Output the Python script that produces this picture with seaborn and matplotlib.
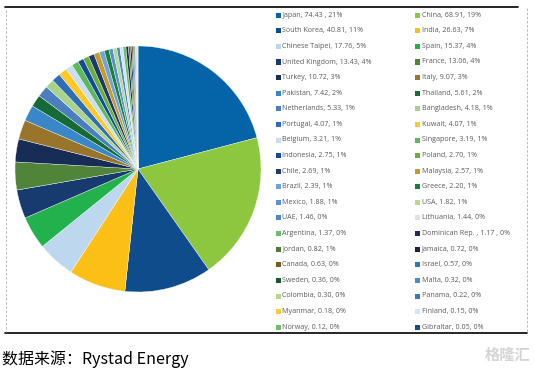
import matplotlib
matplotlib.use("Agg")
import matplotlib.pyplot as plt
from matplotlib.patches import Rectangle
from matplotlib.lines import Line2D
import seaborn as sns

sns.set_theme(style="white")
plt.rcParams['font.family'] = ['Noto Sans CJK SC', 'DejaVu Sans']

# ---- data ----
countries = ["Japan", "China", "South Korea", "India", "Chinese Taipei", "Spain",
             "United Kingdom", "France", "Turkey", "Italy", "Pakistan", "Thailand",
             "Netherlands", "Bangladesh", "Portugal", "Kuwait", "Belgium", "Singapore",
             "Indonesia", "Poland", "Chile", "Malaysia", "Brazil", "Greece",
             "Mexico", "USA", "UAE", "Lithuania", "Argentina", "Dominican Rep.",
             "Jordan", "Jamaica", "Canada", "Israel", "Sweden", "Malta",
             "Colombia", "Panama", "Myanmar", "Finland", "Norway", "Gibraltar"]
values = [74.43, 68.91, 40.81, 26.63, 17.76, 15.37,
          13.43, 13.06, 10.72, 9.07, 7.42, 5.61,
          5.33, 4.18, 4.07, 4.07, 3.21, 3.19,
          2.75, 2.70, 2.69, 2.57, 2.39, 2.20,
          1.88, 1.82, 1.46, 1.44, 1.37, 1.17,
          0.82, 0.72, 0.63, 0.57, 0.36, 0.32,
          0.30, 0.22, 0.18, 0.15, 0.12, 0.05]
legend_labels = ["Japan, 74.43 , 21%", "China, 68.91, 19%", "South Korea, 40.81, 11%",
                 "India, 26.63, 7%", "Chinese Taipei, 17.76, 5%", "Spain, 15.37, 4%",
                 "United Kingdom, 13.43, 4%", "France, 13.06, 4%", "Turkey, 10.72, 3%",
                 "Italy, 9.07, 3%", "Pakistan, 7.42, 2%", "Thailand, 5.61, 2%",
                 "Netherlands, 5.33, 1%", "Bangladesh, 4.18, 1%", "Portugal, 4.07, 1%",
                 "Kuwait, 4.07, 1%", "Belgium, 3.21, 1%", "Singapore, 3.19, 1%",
                 "Indonesia, 2.75, 1%", "Poland, 2.70, 1%", "Chile, 2.69, 1%",
                 "Malaysia, 2.57, 1%", "Brazil, 2.39, 1%", "Greece, 2.20, 1%",
                 "Mexico, 1.88, 1%", "USA, 1.82, 1%", "UAE, 1.46, 0%",
                 "Lithuania, 1.44, 0%", "Argentina, 1.37, 0%", "Dominican Rep. , 1.17 , 0%",
                 "Jordan, 0.82, 1%", "Jamaica, 0.72, 0%", "Canada, 0.63, 0%",
                 "Israel, 0.57, 0%", "Sweden, 0.36, 0%", "Malta, 0.32, 0%",
                 "Colombia, 0.30, 0%", "Panama, 0.22, 0%", "Myanmar, 0.18, 0%",
                 "Finland, 0.15, 0%", "Norway, 0.12, 0%", "Gibraltar, 0.05, 0%"]
colors = ["#0563a8", "#8dc63f", "#0f4c8c", "#fbbf15", "#bdd7ee", "#22b14c",
          "#173b6e", "#508539", "#172d55", "#98752a", "#3a87c8", "#156b35",
          "#4a7ebf", "#a8d38a", "#2f6eb5", "#ffc928", "#c9def0", "#5db85c",
          "#134c96", "#6aaf3a", "#1b3a6b", "#c89a2b", "#6fa4d8", "#1a7f3a",
          "#5b8fd0", "#b4da90", "#4b8ac9", "#d3e4f3", "#6cbf6a", "#1e2e55",
          "#4e7a32", "#172540", "#7a5a20", "#2c79b9", "#175a2c", "#4b8dcc",
          "#b3d98b", "#3a78c0", "#ffcc33", "#d5e5f3", "#6cc06c", "#174c8c"]
source_text = "数据来源：Rystad Energy"

W, H = 535, 374
fig = plt.figure(figsize=(W / 100, H / 100), dpi=100)
fig.patch.set_facecolor("white")

def fx(px):
    return px / W

def fy(py):
    return 1 - py / H

# ---- pie ----
cx, cy, r = 138, 169, 123
ax = fig.add_axes([fx(cx - r), fy(cy + r), 2 * r / W, 2 * r / H])
ax.pie(values, colors=colors, startangle=90, counterclock=False,
       wedgeprops=dict(edgecolor="white", linewidth=0.25))
ax.set_xlim(-1, 1)
ax.set_ylim(-1, 1)
ax.set_aspect("equal")
ax.axis("off")

# ---- legend (row-major, two columns) ----
lx0, col_w, ly0, row_h, sq = 276, 139, 15.2, 15.6, 5
for i, (lab, col) in enumerate(zip(legend_labels, colors)):
    c, rw = i % 2, i // 2
    x = lx0 + c * col_w
    y = ly0 + rw * row_h
    fig.patches.append(Rectangle((fx(x), fy(y + sq / 2)), sq / W, sq / H,
                                 transform=fig.transFigure, facecolor=col,
                                 edgecolor="none"))
    fig.text(fx(x + sq + 1.5), fy(y), lab, fontsize=5.1, color="#5a5a5a",
             family=["Open Sans", "DejaVu Sans"], va="center", ha="left")

# ---- frame lines ----
fig.add_artist(Line2D([fx(5), fx(518)], [fy(7), fy(7)], color="black", lw=1.2,
                      transform=fig.transFigure))
fig.add_artist(Line2D([fx(5), fx(527)], [fy(333), fy(333)], color="black", lw=1.2,
                      transform=fig.transFigure))
fig.add_artist(Line2D([fx(5.5), fx(5.5)], [fy(10), fy(332)], color="#b0b0b0", lw=0.6,
                      ls=(0, (3, 2)), transform=fig.transFigure))
fig.add_artist(Line2D([fx(527), fx(527)], [fy(8), fy(332)], color="#b0b0b0", lw=0.6,
                      ls=(0, (3, 2)), transform=fig.transFigure))

# ---- footer ----
fig.text(fx(2), fy(359), source_text, fontsize=11.5, color="black",
         va="center", ha="left")
fig.text(fx(530), fy(355), "格隆汇", fontsize=11, color="#d4d4d4",
         va="center", ha="right", fontweight="bold")

fig.savefig("out.png", dpi=100, facecolor="white")
